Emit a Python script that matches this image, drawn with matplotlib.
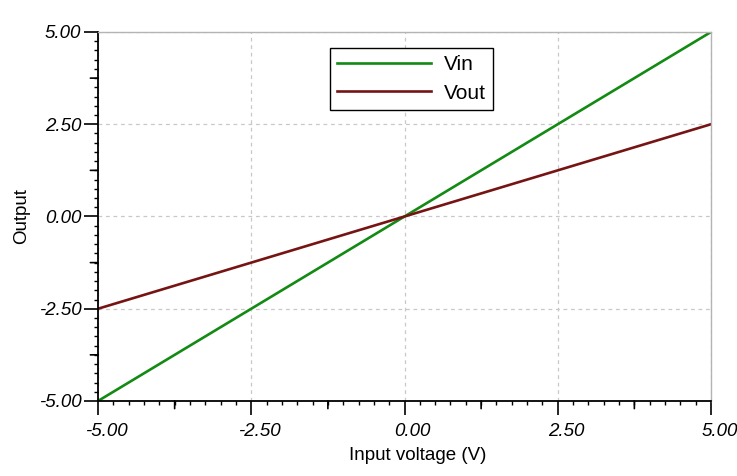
import matplotlib.pyplot as plt
from matplotlib.ticker import MultipleLocator, FixedLocator
from matplotlib.transforms import ScaledTranslation

# sweep points (V)
v_input = [-5.0, -4.0, -3.0, -2.0, -1.0, 0.0, 1.0, 2.0, 3.0, 4.0, 5.0]
v_in = [-5.0, -4.0, -3.0, -2.0, -1.0, 0.0, 1.0, 2.0, 3.0, 4.0, 5.0]
v_out = [-2.5, -2.0, -1.5, -1.0, -0.5, 0.0, 0.5, 1.0, 1.5, 2.0, 2.5]

major_ticks = [-5.0, -2.5, 0.0, 2.5, 5.0]
mid_ticks = [-3.75, -1.25, 1.25, 3.75]
tick_labels = ['-5.00', '-2.50', '0.00', '2.50', '5.00']

plt.rcParams['font.family'] = ['Liberation Sans', 'DejaVu Sans']

fig = plt.figure(figsize=(7.37, 4.76), dpi=100)
ax = fig.add_axes([0.133, 0.1576, 0.8317, 0.7752])

ax.plot(v_input, v_in, color='#138a13', lw=1.9, label='Vin')
ax.plot(v_input, v_out, color='#761414', lw=1.9, label='Vout')

ax.set_xlim(-5, 5)
ax.set_ylim(-5, 5)

for axis in (ax.xaxis, ax.yaxis):
    axis.set_major_locator(FixedLocator(major_ticks))
    axis.set_minor_locator(MultipleLocator(0.25))

ax.set_xticklabels(tick_labels, fontstyle='italic', fontsize=13.5)
ax.set_yticklabels(tick_labels, fontstyle='italic', fontsize=13.5)

ax.tick_params(which='major', direction='out', length=10, width=1.2, color='black')
ax.tick_params(axis='x', which='major', pad=6)
ax.tick_params(axis='y', which='major', pad=2)
ax.tick_params(which='minor', direction='out', length=3, width=1.0, color='black')

# x labels sit a little right of their ticks
shift = ScaledTranslation(6 / 72, 0, fig.dpi_scale_trans)
for lbl in ax.get_xticklabels():
    lbl.set_transform(lbl.get_transform() + shift)

# slightly longer ticks halfway between labels
for t in mid_ticks:
    ax.annotate('', xy=(t, 0), xycoords=('data', 'axes fraction'),
                xytext=(0, -5.5), textcoords='offset points',
                arrowprops=dict(arrowstyle='-', color='black', lw=1.2,
                                shrinkA=0, shrinkB=0),
                annotation_clip=False)
    ax.annotate('', xy=(0, t), xycoords=('axes fraction', 'data'),
                xytext=(-5.5, 0), textcoords='offset points',
                arrowprops=dict(arrowstyle='-', color='black', lw=1.2,
                                shrinkA=0, shrinkB=0),
                annotation_clip=False)

ax.grid(True, which='major', color='#c8c8c8', ls=(0, (3, 3)), lw=0.9)
ax.set_axisbelow(True)

for side in ('top', 'right'):
    ax.spines[side].set_color('#b4b4b4')
    ax.spines[side].set_linewidth(1.0)
for side in ('left', 'bottom'):
    ax.spines[side].set_color('black')
    ax.spines[side].set_linewidth(1.3)

ax.set_xlabel('Input voltage (V)', fontsize=13.5)
ax.xaxis.set_label_coords(0.522, -0.124)
ax.set_ylabel('Output', fontsize=13.5, labelpad=6)

leg = ax.legend(loc='upper left', bbox_to_anchor=(0.3785, 0.9566), fontsize=15,
                handlelength=4.5, handletextpad=0.6, borderpad=0.35,
                labelspacing=0.45, borderaxespad=0, fancybox=False, framealpha=1)
leg.get_frame().set_edgecolor('black')
leg.get_frame().set_linewidth(1.0)

fig.savefig('out.png', dpi=100)
